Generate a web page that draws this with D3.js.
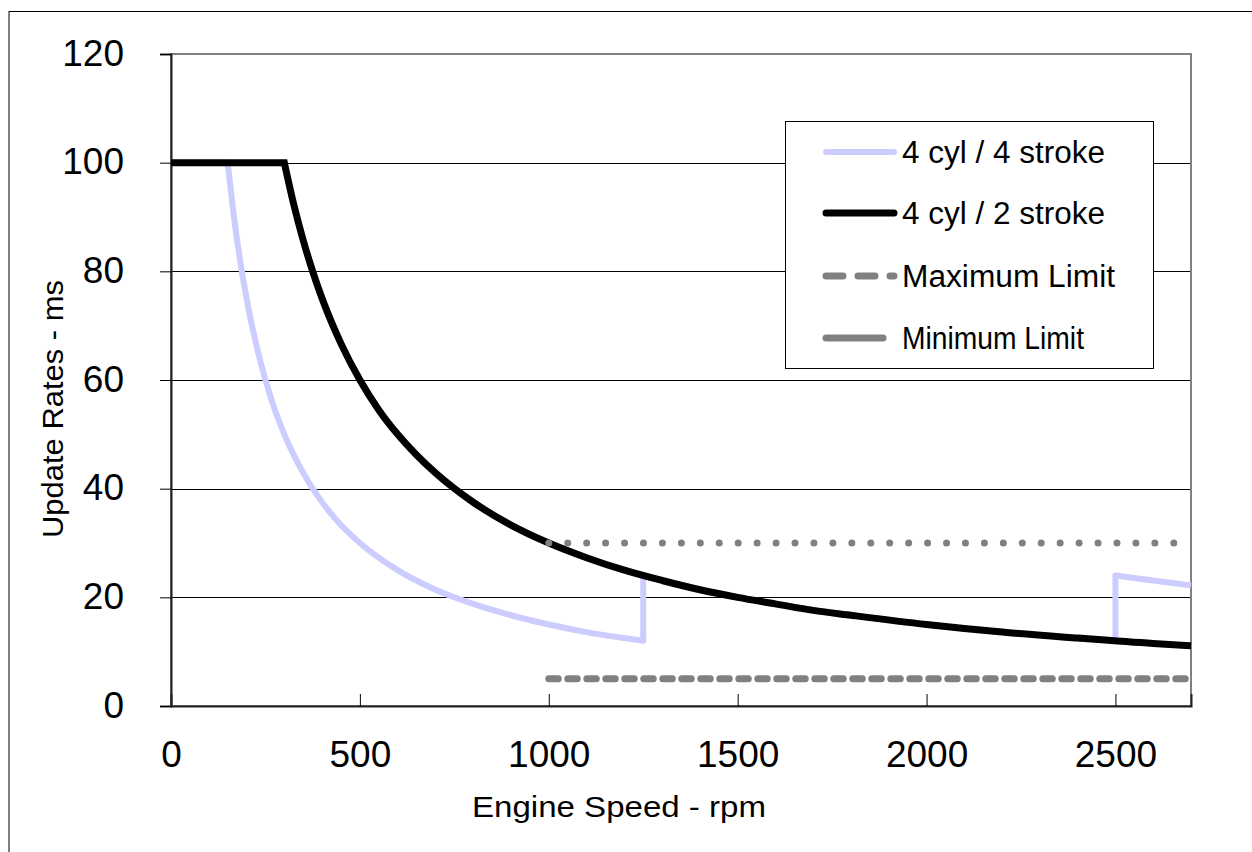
<!DOCTYPE html>
<html>
<head>
<meta charset="utf-8">
<script src="https://cdn.jsdelivr.net/npm/d3@7"></script>
<style>
  body { margin: 0; background: #fff; }
  svg { display: block; font-family: "Liberation Sans", Arial, sans-serif; }
</style>
</head>
<body>
<svg width="1252" height="852"></svg>
<script>
// 4 cyl / 4 stroke (light line)
var rpm4 = [0, 150, 165, 180, 200, 225, 250, 275, 300, 350, 400, 450, 500, 600, 700, 800, 900, 1000, 1100, 1200, 1250,
            1250, 1300, 1400, 1600, 1800, 2000, 2200, 2400, 2500,
            2500, 2600, 2700];
var rate4 = [100, 100, 90.9, 83.3, 75, 66.7, 60, 54.5, 50, 42.9, 37.5, 33.3, 30, 25, 21.4, 18.8, 16.7, 15, 13.6, 12.5, 12,
             24, 23.1, 21.4, 18.8, 16.7, 15, 13.6, 12.5, 12,
             24, 23.1, 22.2];
// 4 cyl / 2 stroke (black line)
var rpm2 = [0, 300, 325, 350, 375, 400, 450, 500, 550, 600, 650, 700, 800, 900, 1000, 1100, 1200, 1300, 1400, 1500,
            1600, 1700, 1800, 2000, 2200, 2400, 2600, 2700];
var rate2 = [100, 100, 92.3, 85.7, 80, 75, 66.7, 60, 54.5, 50, 46.2, 42.9, 37.5, 33.3, 30, 27.3, 25, 23.1, 21.4, 20,
             18.8, 17.6, 16.7, 15, 13.6, 12.5, 11.5, 11.1];
// limits
var limitRpm = [1000, 2700];
var maxLimit = [30, 30];
var minLimit = [5, 5];

var xTicks = [0, 500, 1000, 1500, 2000, 2500];
var yTicks = [0, 20, 40, 60, 80, 100, 120];
var legendNames = ["4 cyl / 4 stroke", "4 cyl / 2 stroke", "Maximum Limit", "Minimum Limit"];

var svg = d3.select("svg");
var x = d3.scaleLinear().domain([0, 2700]).range([171, 1191]);
var y = d3.scaleLinear().domain([0, 120]).range([706, 54]);

// chart area border
svg.append("rect")
    .attr("x", 9).attr("y", 11.5)
    .attr("width", 1300).attr("height", 900)
    .attr("fill", "none").attr("stroke", "#000").attr("stroke-width", 1);

// gridlines
svg.append("g")
    .selectAll("line")
    .data(yTicks.filter(function(d) { return d > 0 && d < 120; }))
    .enter().append("line")
    .attr("x1", x(0)).attr("x2", x(2700))
    .attr("y1", function(d) { return Math.round(y(d)) + 0.5; })
    .attr("y2", function(d) { return Math.round(y(d)) + 0.5; })
    .attr("stroke", "#000").attr("stroke-width", 1);

// plot area border
svg.append("rect")
    .attr("x", x(0)).attr("y", y(120))
    .attr("width", x(2700) - x(0)).attr("height", y(0) - y(120))
    .attr("fill", "none").attr("stroke", "#808080").attr("stroke-width", 2);

// axes
var yAxis = svg.append("g")
    .attr("transform", "translate(" + x(0) + ",0)")
    .call(d3.axisLeft(y).tickValues(yTicks).tickSize(11).tickPadding(36));
var xAxis = svg.append("g")
    .attr("transform", "translate(0," + y(0) + ")")
    .call(d3.axisBottom(x).tickValues(xTicks).tickFormat(d3.format("d")).tickSize(-12).tickPadding(0));

yAxis.select(".domain").attr("stroke", "#222").attr("stroke-width", 2);
xAxis.select(".domain").attr("stroke", "#222").attr("stroke-width", 2);
yAxis.selectAll(".tick line").attr("stroke", "#000").attr("stroke-width", 1);
xAxis.selectAll(".tick line").attr("stroke", "#000").attr("stroke-width", 1)
    .filter(function(d) { return d === 0; }).remove();
yAxis.selectAll(".tick text")
    .attr("font-size", 37).attr("font-family", "Liberation Sans, Arial, sans-serif")
    .attr("fill", "#000").attr("dy", "0.3em");
xAxis.selectAll(".tick text")
    .attr("font-size", 37).attr("font-family", "Liberation Sans, Arial, sans-serif")
    .attr("fill", "#000").attr("y", 61).attr("dy", 0);

// axis titles
svg.append("text")
    .attr("x", 619).attr("y", 817)
    .attr("text-anchor", "middle")
    .attr("font-size", 30)
    .attr("textLength", 294).attr("lengthAdjust", "spacingAndGlyphs")
    .text("Engine Speed - rpm");
svg.append("text")
    .attr("transform", "translate(63,409) rotate(-90)")
    .attr("text-anchor", "middle")
    .attr("font-size", 30)
    .attr("textLength", 258).attr("lengthAdjust", "spacingAndGlyphs")
    .text("Update Rates - ms");

// split series into pieces: flat runs, curves, and vertical jumps
function buildPath(xs, ys) {
    var pieces = [], cur = [[xs[0], ys[0]]];
    for (var i = 1; i < xs.length; i++) {
        var p = [xs[i], ys[i]];
        var prev = cur[cur.length - 1];
        if (xs[i] === prev[0]) {
            pieces.push(cur);
            pieces.push([prev, p]);
            cur = [p];
        } else if (cur.length >= 2 && ys[i - 1] === ys[i - 2] && ys[i] !== ys[i - 1]) {
            pieces.push(cur);
            cur = [prev, p];
        } else {
            cur.push(p);
        }
    }
    pieces.push(cur);
    var line = d3.line()
        .x(function(d) { return x(d[0]); })
        .y(function(d) { return y(d[1]); })
        .curve(d3.curveMonotoneX);
    return pieces.filter(function(pc) { return pc.length > 1; })
        .map(function(pc, k) {
            var d = line(pc);
            return k === 0 ? d : "L" + d.slice(1);
        }).join("");
}

// series
svg.append("path")
    .attr("d", buildPath(rpm4, rate4))
    .attr("fill", "none").attr("stroke", "#ccccff").attr("stroke-width", 6)
    .attr("stroke-linejoin", "round");
svg.append("path")
    .attr("d", buildPath(rpm2, rate2))
    .attr("fill", "none").attr("stroke", "#000").attr("stroke-width", 7)
    .attr("stroke-linejoin", "miter");

// limit lines (drawn on top)
var limitLine = d3.line()
    .x(function(d) { return x(d[0]); })
    .y(function(d) { return y(d[1]); });
svg.append("path")
    .attr("d", limitLine(d3.zip(limitRpm, maxLimit)))
    .attr("fill", "none").attr("stroke", "#808080").attr("stroke-width", 7)
    .attr("stroke-linecap", "round").attr("stroke-dasharray", "0.01,18.93");
svg.append("path")
    .attr("d", limitLine(d3.zip(limitRpm, minLimit)))
    .attr("fill", "none").attr("stroke", "#808080").attr("stroke-width", 7)
    .attr("stroke-linecap", "round").attr("stroke-dasharray", "9.5,9.5");

// legend
var legend = svg.append("g");
legend.append("rect")
    .attr("x", 785.5).attr("y", 121.5).attr("width", 368).attr("height", 247)
    .attr("fill", "#fff").attr("stroke", "#000").attr("stroke-width", 1);
var legendY = [152, 213, 276, 338];
var legendText = [203, 203, 213, 182];
legend.selectAll("text")
    .data(legendNames)
    .enter().append("text")
    .attr("x", 902)
    .attr("y", function(d, i) { return legendY[i] + 11; })
    .attr("font-size", 31)
    .attr("textLength", function(d, i) { return legendText[i]; })
    .attr("lengthAdjust", "spacingAndGlyphs")
    .text(function(d) { return d; });
legend.append("line")
    .attr("x1", 826).attr("x2", 894).attr("y1", legendY[0]).attr("y2", legendY[0])
    .attr("stroke", "#ccccff").attr("stroke-width", 6).attr("stroke-linecap", "round");
legend.append("line")
    .attr("x1", 826).attr("x2", 894).attr("y1", legendY[1]).attr("y2", legendY[1])
    .attr("stroke", "#000").attr("stroke-width", 7).attr("stroke-linecap", "round");
legend.append("line")
    .attr("x1", 826).attr("x2", 894).attr("y1", legendY[2]).attr("y2", legendY[2])
    .attr("stroke", "#808080").attr("stroke-width", 7).attr("stroke-linecap", "round")
    .attr("stroke-dasharray", "17,15");
legend.append("line")
    .attr("x1", 826).attr("x2", 883).attr("y1", legendY[3]).attr("y2", legendY[3])
    .attr("stroke", "#808080").attr("stroke-width", 7).attr("stroke-linecap", "round");
</script>
</body>
</html>
